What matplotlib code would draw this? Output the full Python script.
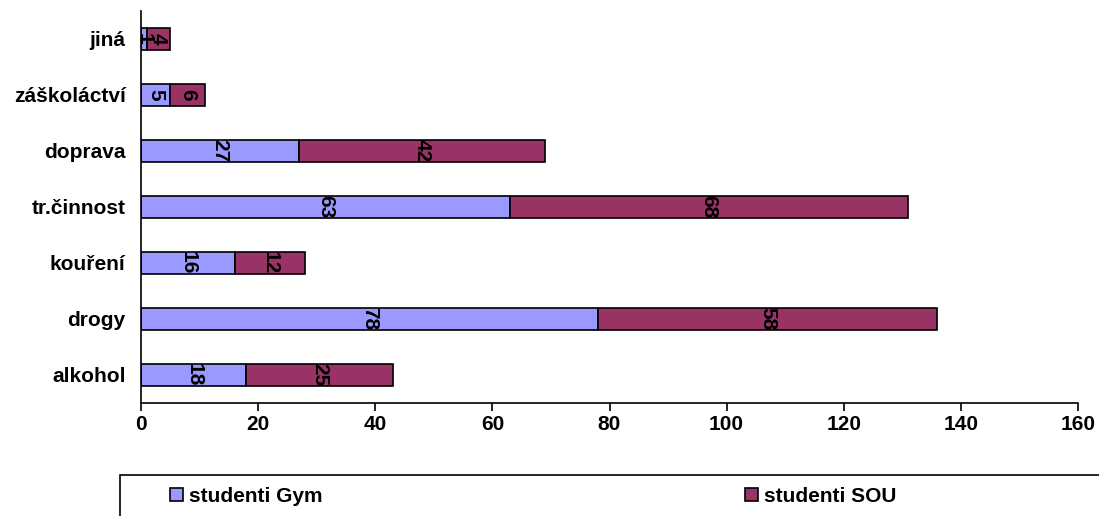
import numpy as np
import matplotlib.pyplot as plt
from matplotlib.patches import Rectangle

plt.rcParams['font.family'] = ['Liberation Sans', 'DejaVu Sans']
plt.rcParams['font.weight'] = 'bold'

# data
kategorie = ["alkohol", "drogy", "kouření", "tr.činnost", "doprava", "záškoláctví", "jiná"]
gym = [18, 78, 16, 63, 27, 5, 1]
sou = [25, 58, 12, 68, 42, 6, 4]

fs = 15
fig = plt.figure(figsize=(10.99, 5.16), dpi=100)
ax = fig.add_axes([141/1099, 1 - 403/516, (1078-141)/1099, 392/516])

y = np.arange(len(kategorie))
h = 0.41
b1 = ax.barh(y, gym, height=h, color="#9999FF", edgecolor="black", linewidth=1.2, label="studenti Gym")
b2 = ax.barh(y, sou, height=h, left=gym, color="#993366", edgecolor="black", linewidth=1.2, label="studenti SOU")

for i in range(len(kategorie)):
    ax.text(gym[i] / 2, y[i], str(gym[i]), rotation=270, ha="center", va="center",
            fontsize=fs, fontweight="bold")
    ax.text(gym[i] + sou[i] / 2, y[i], str(sou[i]), rotation=270, ha="center", va="center",
            fontsize=fs, fontweight="bold")

ax.set_xlim(0, 160)
ax.set_ylim(-0.5, len(kategorie) - 0.5)
ax.set_xticks(range(0, 161, 20))
ax.set_yticks(y)
ax.set_yticklabels(kategorie)
ax.tick_params(axis="x", direction="out", length=6, width=1.2, labelsize=fs, pad=3)
ax.tick_params(axis="y", length=0, labelsize=fs, pad=11)
for lab in ax.get_xticklabels() + ax.get_yticklabels():
    lab.set_fontweight("bold")
ax.spines["top"].set_visible(False)
ax.spines["right"].set_visible(False)
ax.spines["left"].set_linewidth(1.2)
ax.spines["bottom"].set_linewidth(1.2)

# legend box runs off the figure edge
fig.patches.append(Rectangle((120/1099, -0.1), 1.0, (516-475)/516 + 0.1, transform=fig.transFigure,
                             fill=False, edgecolor="black", linewidth=1.2, clip_on=False))
ly = 1 - 496/516
for handle, xpos in [(b1, 170/1099), (b2, 745/1099)]:
    fig.legend(handles=[handle], loc="center left", bbox_to_anchor=(xpos, ly), frameon=False,
               borderpad=0, borderaxespad=0, prop={"weight": "bold", "size": fs},
               handlelength=0.6, handleheight=0.6, handletextpad=0.3)

fig.savefig("out.png", dpi=100)
